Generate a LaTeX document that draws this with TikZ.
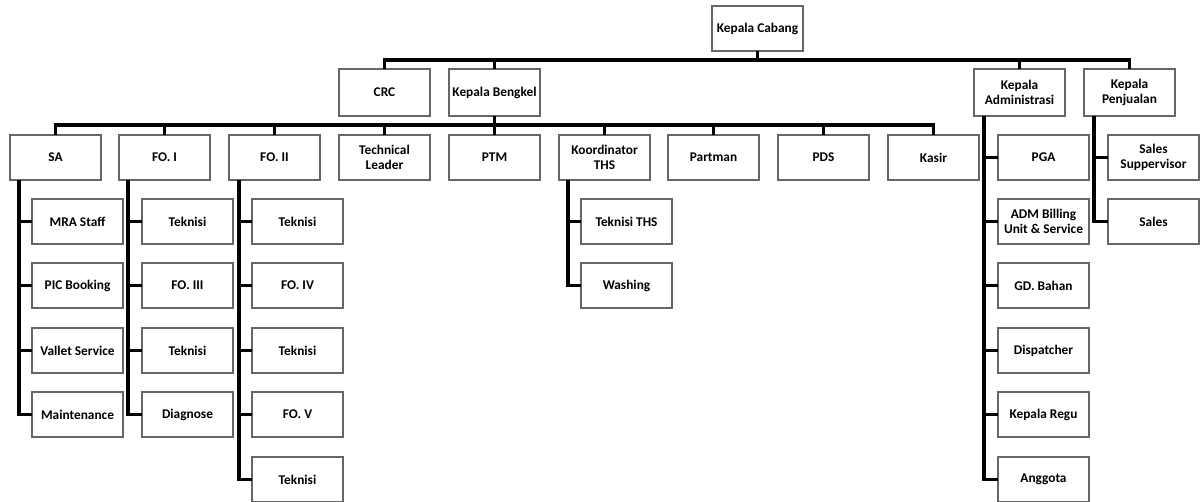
\documentclass[tikz,border=0pt]{standalone}
\usepackage{fontspec}
\setmainfont{Carlito}
\begin{document}
\begin{tikzpicture}[x=0.75pt,y=-0.75pt,
  box/.style={draw=black!60, line width=0.9pt, minimum width=68.25pt, minimum height=33.75pt,
    anchor=north west, align=center, inner sep=1pt, outer sep=0pt,
    font=\fontsize{10}{11}\selectfont\bfseries},
  head/.style={box, minimum height=35.25pt},
  conn/.style={line width=2.5pt, black}]
\useasboundingbox (0,0) rectangle (1202,501);

% level 0 and 1
\node[box] (cabang) at (712,6) {Kepala Cabang};
\node[head] (crc) at (339,69) {CRC};
\node[head] (kbeng) at (449,69) {Kepala Bengkel};
\node[head] (kadm) at (974,69) {Kepala\\Administrasi};
\node[head] (kpen) at (1084,69) {Kepala\\Penjualan};

% level 2
\node[box] (sa) at (10,135) {SA};
\node[box] (fo1) at (119,135) {FO. I};
\node[box] (fo2) at (229,135) {FO. II};
\node[box] (tl) at (339,135) {Technical\\Leader};
\node[box] (ptm) at (449,135) {PTM};
\node[box] (kths) at (559,135) {Koordinator\\THS};
\node[box] (partman) at (668,135) {Partman};
\node[box] (pds) at (778,135) {PDS};
\node[box] (kasir) at (888,135) {Kasir};
\node[box] (pga) at (998,135) {PGA};
\node[box] (ssup) at (1108,135) {Sales\\Suppervisor};

% SA children
\node[box] (mra) at (32,199) {MRA Staff};
\node[box] (pic) at (32,263) {PIC Booking};
\node[box] (vallet) at (32,328) {Vallet Service};
\node[box] (maint) at (32,392) {Maintenance};

% FO. I children
\node[box] (ta) at (142,199) {Teknisi};
\node[box] (fo3) at (142,263) {FO. III};
\node[box] (tb) at (142,328) {Teknisi};
\node[box] (diag) at (142,392) {Diagnose};

% FO. II children
\node[box] (tc) at (252,199) {Teknisi};
\node[box] (fo4) at (252,263) {FO. IV};
\node[box] (td) at (252,328) {Teknisi};
\node[box] (fo5) at (252,392) {FO. V};
\node[box] (te) at (252,457) {Teknisi};

% Koordinator THS children
\node[box] (tths) at (581,199) {Teknisi THS};
\node[box] (wash) at (581,263) {Washing};

% Kepala Administrasi children
\node[box] (adm) at (998,199) {ADM Billing\\Unit \& Service};
\node[box] (gd) at (998,263) {GD. Bahan};
\node[box] (disp) at (998,328) {Dispatcher};
\node[box] (regu) at (998,392) {Kepala Regu};
\node[box] (angg) at (998,457) {Anggota};

% Kepala Penjualan children
\node[box] (sales) at (1108,199) {Sales};

% top bus
\draw[conn] (cabang.south) -- ++(0,9);
\draw[conn] (crc.north) -- ++(0,-9) -| (kpen.north);
\draw[conn] (kbeng.north) -- ++(0,-9);
\draw[conn] (kadm.north) -- ++(0,-9);

% second bus
\draw[conn] (kbeng.south) -- ++(0,9);
\draw[conn] (sa.north) -- ++(0,-10) -| (kasir.north);
\foreach \n in {fo1,fo2,tl,ptm,kths,partman,pds}
  \draw[conn] (\n.north) -- ++(0,-10);

% trunks
\draw[conn] (sa.south west) ++(9,0) |- (maint.west);
\foreach \n in {mra,pic,vallet} \draw[conn] (\n.west) -- ++(-13,0);

\draw[conn] (fo1.south west) ++(9,0) |- (diag.west);
\foreach \n in {ta,fo3,tb} \draw[conn] (\n.west) -- ++(-14,0);

\draw[conn] (fo2.south west) ++(10,0) |- (te.west);
\foreach \n in {tc,fo4,td,fo5} \draw[conn] (\n.west) -- ++(-13,0);

\draw[conn] (kths.south west) ++(9,0) |- (wash.west);
\draw[conn] (tths.west) -- ++(-13,0);

\draw[conn] (kadm.south west) ++(10,0) |- (angg.west);
\foreach \n in {pga,adm,gd,disp,regu} \draw[conn] (\n.west) -- ++(-14,0);

\draw[conn] (kpen.south west) ++(10,0) |- (sales.west);
\draw[conn] (ssup.west) -- ++(-14,0);
\end{tikzpicture}
\end{document}
